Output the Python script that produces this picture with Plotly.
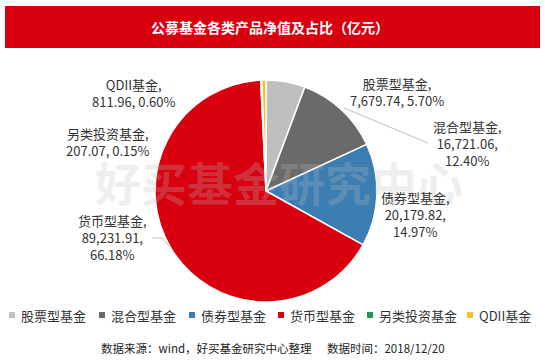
import plotly.graph_objects as go

W, H = 545, 363

categories = ["股票型基金", "混合型基金", "债券型基金", "货币型基金", "另类投资基金", "QDII基金"]
values = [7679.74, 16721.06, 20179.82, 89231.91, 207.07, 811.96]
colors = ["#bfbfbf", "#6a6a6a", "#3c7db2", "#d8000f", "#1f9b4f", "#f2c12e"]

title_text = "公募基金各类产品净值及占比（亿元）"
footer_text = "数据来源：wind，好买基金研究中心整理\u00a0\u00a0\u00a0\u00a0\u00a0\u00a0数据时间：2018/12/20"
watermark_text = "好买基金研究中心"

FONT = "Noto Sans CJK SC"


def px(x):
    return x / W


def py(y):
    return 1 - y / H


total = sum(values)
pcts = [v / total * 100 for v in values]

# label placement (pixel centers) and line-break style per category
label_pos = [(397, 92), (467, 143), (415, 214), (112, 237), (107, 142), (133, 93)]
three_line = [False, True, True, True, False, False]

fig = go.Figure()

cx, cy, r = 266, 191, 111
fig.add_trace(go.Pie(
    labels=categories,
    values=values,
    sort=False,
    direction="clockwise",
    rotation=0,
    marker=dict(colors=colors, line=dict(color="white", width=1.5)),
    textinfo="none",
    hoverinfo="label+value+percent",
    showlegend=False,
    domain=dict(x=[px(cx - r), px(cx + r)], y=[py(cy + r), py(cy - r)]),
))

annotations = []
shapes = []

# title bar
shapes.append(dict(type="rect", xref="paper", yref="paper",
                   x0=px(5), x1=px(540), y0=py(48), y1=py(6),
                   fillcolor="#d8000f", line=dict(width=0), layer="below"))
annotations.append(dict(text="<b>" + title_text + "</b>", x=px(270), y=py(27),
                        xref="paper", yref="paper", showarrow=False,
                        font=dict(family=FONT, size=14, color="white"),
                        xanchor="center", yanchor="middle"))

# watermark
annotations.append(dict(text="<b>" + watermark_text + "</b>", x=px(279), y=py(181),
                        xref="paper", yref="paper", showarrow=False,
                        font=dict(family=FONT, size=46, color="rgba(190,190,190,0.25)"),
                        xanchor="center", yanchor="middle"))

# slice labels
for cat, v, p, (lx, ly), tl in zip(categories, values, pcts, label_pos, three_line):
    sep = ",<br>" if tl else ", "
    txt = f"{cat},<br>{v:,.2f}{sep}{p:.2f}%"
    annotations.append(dict(text=txt, x=px(lx), y=py(ly), xref="paper", yref="paper",
                            showarrow=False, align="center",
                            font=dict(family=FONT, size=13, color="#333333"),
                            xanchor="center", yanchor="middle"))

# leader lines
def path(points):
    return "M " + " L ".join(f"{px(x):.5f},{py(y):.5f}" for x, y in points)

shapes.append(dict(type="path", xref="paper", yref="paper",
                   path=path([(344, 108), (428, 143)]),
                   line=dict(color="#bdbdbd", width=1)))
shapes.append(dict(type="path", xref="paper", yref="paper",
                   path=path([(152, 238), (162, 238), (170, 247)]),
                   line=dict(color="#bdbdbd", width=1)))

# manual legend
legend_x = [9, 99, 189, 278, 367, 467]
leg_y = 315
for cat, col, lx in zip(categories, colors, legend_x):
    shapes.append(dict(type="rect", xref="paper", yref="paper",
                       x0=px(lx), x1=px(lx + 6), y0=py(leg_y + 3), y1=py(leg_y - 3),
                       fillcolor=col, line=dict(width=0)))
    annotations.append(dict(text=cat, x=px(lx + 10), y=py(leg_y), xref="paper", yref="paper",
                            showarrow=False, xanchor="left", yanchor="middle",
                            font=dict(family=FONT, size=13, color="#333333")))

# footer
annotations.append(dict(text=footer_text, x=px(273), y=py(348), xref="paper", yref="paper",
                        showarrow=False, xanchor="center", yanchor="middle",
                        font=dict(family=FONT, size=11.5, color="#222222")))

fig.update_layout(
    width=W, height=H,
    margin=dict(l=0, r=0, t=0, b=0),
    paper_bgcolor="white", plot_bgcolor="white",
    showlegend=False,
    shapes=shapes,
    annotations=annotations,
)

fig.write_html("out.html", config={"displayModeBar": False},
               post_script="document.body.style.margin='0';")
